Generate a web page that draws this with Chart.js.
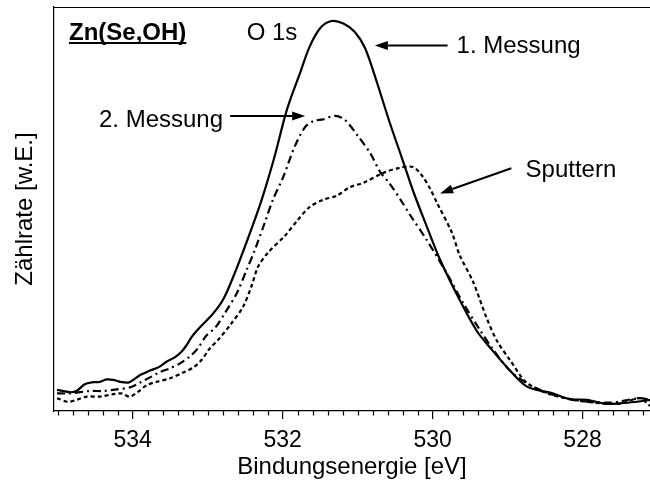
<!DOCTYPE html>
<html>
<head>
<meta charset="utf-8">
<script src="https://cdn.jsdelivr.net/npm/chart.js@4.4.0/dist/chart.umd.min.js"></script>
<style>
html,body{margin:0;padding:0;background:#ffffff;}
#wrap{width:650px;height:482px;}
</style>
</head>
<body>
<div id="wrap"><canvas id="c" width="650" height="482"></canvas></div>
<script>
// ---- data (binding energy in eV, count rate in arbitrary units) ----
const energy1 = [535.01,534.84,534.75,534.64,534.53,534.44,534.35,534.26,534.17,534.06,533.99,533.90,533.77,533.66,533.55,533.44,533.35,533.28,533.21,533.10,532.93,532.79,532.66,532.46,532.28,532.12,531.97,531.90,531.77,531.64,531.50,531.35,531.19,531.04,530.90,530.74,530.57,530.41,530.25,530.06,529.90,529.64,529.41,529.24,529.01,528.74,528.40,528.17,527.94,527.68,527.46,527.20,527.10];
const counts1 = [5.3,4.7,5.0,6.7,7.2,7.3,7.9,7.8,7.3,7.1,7.8,9.0,10.1,10.9,12.3,13.4,14.8,16.5,18.6,21.0,24.3,28.0,33.5,43.3,52.8,62.8,73.6,77.8,84.4,91.1,95.7,97.5,96.9,94.8,90.7,82.0,72.0,63.3,54.5,45.3,37.8,27.8,20.0,16.0,11.0,6.1,4.4,3.0,2.8,1.8,2.0,2.5,2.8];

const energy2 = [535.01,534.84,534.57,534.40,534.21,534.04,533.90,533.77,533.64,533.50,533.37,533.24,533.13,533.02,532.90,532.77,532.61,532.48,532.37,532.24,532.13,531.99,531.84,531.70,531.59,531.46,531.30,531.17,530.99,530.83,530.70,530.57,530.40,530.30,530.08,529.81,529.59,529.37,529.19,528.93,528.57,528.13,527.64,527.24,527.10];
const counts2 = [4.4,4.4,5.0,5.0,5.4,5.9,7.1,8.4,9.7,10.7,11.9,13.6,15.7,18.8,20.8,24.5,29.5,35.3,40.3,47.0,52.8,58.6,66.1,71.0,72.5,72.9,73.8,72.8,68.6,64.4,59.8,56.8,52.0,49.0,42.8,34.4,26.9,20.3,15.3,9.4,5.3,2.8,2.1,3.2,2.8];

const energy3 = [535.01,534.86,534.75,534.61,534.44,534.26,534.15,534.04,533.93,533.81,533.68,533.50,533.33,533.19,533.08,532.97,532.86,532.70,532.53,532.41,532.33,532.20,531.97,531.81,531.64,531.46,531.28,531.10,530.93,530.66,530.44,530.26,530.14,530.04,529.94,529.74,529.64,529.46,529.28,529.14,528.97,528.74,528.40,527.94,527.50,527.24,527.10];
const counts3 = [3.2,2.3,2.8,3.6,3.6,4.2,4.4,3.6,4.8,6.5,7.3,8.2,9.6,10.9,12.8,15.7,17.8,21.5,26.0,31.5,36.0,39.5,43.8,47.5,51.0,52.8,53.8,56.0,57.0,59.5,60.8,61.0,58.8,55.8,52.0,44.5,39.0,32.3,23.3,17.5,12.8,7.0,4.0,2.3,1.8,3.2,1.3];

const majorTicks = [528, 530, 532, 534];

// annotation texts (anchored in data units: eV, counts)
const notes = [
  {text:'Zn(Se,OH)', x:534.85, y:92.75, bold:true, underline:true},
  {text:'O 1s', x:532.48, y:92.75},
  {text:'1. Messung', x:529.68, y:89.6},
  {text:'2. Messung', x:534.45, y:71.0},
  {text:'Sputtern', x:528.76, y:58.5}
];
const arrows = [
  {from:[529.80, 91.4], to:[530.77, 91.4]},
  {from:[532.70, 73.75], to:[531.70, 73.75]},
  {from:[528.95, 60.7], to:[529.90, 54.4]}
];

const FONT = 'Liberation Sans, Arial, Helvetica, sans-serif';

function pts(xs, ys){ return xs.map((v,i)=>({x:v, y:ys[i]})); }

const framePlugin = {
  id:'frame',
  afterDraw(chart){
    const ctx = chart.ctx, a = chart.chartArea, xs = chart.scales.x, ys = chart.scales.y;
    ctx.save();
    ctx.strokeStyle = '#000';
    // top frame line
    ctx.lineWidth = 1.2;
    ctx.beginPath(); ctx.moveTo(a.left, a.top + 0.5); ctx.lineTo(chart.width, a.top + 0.5); ctx.stroke();
    // minor ticks every 0.2 eV
    ctx.lineWidth = 1.2;
    const lo = Math.ceil(xs.min * 5), hi = Math.floor(xs.max * 5);
    for (let i = lo; i <= hi; i++) {
      if (i % 10 === 0) continue;
      const px = Math.round(xs.getPixelForValue(i / 5)) + 0.5;
      ctx.beginPath(); ctx.moveTo(px, a.bottom); ctx.lineTo(px, a.bottom + 4.5); ctx.stroke();
    }
    // annotation texts
    ctx.fillStyle = '#000';
    ctx.textBaseline = 'alphabetic';
    ctx.textAlign = 'left';
    notes.forEach(n => {
      ctx.font = (n.bold ? 'bold ' : '') + '24px ' + FONT;
      const px = xs.getPixelForValue(n.x), py = ys.getPixelForValue(n.y);
      ctx.fillText(n.text, px, py);
      if (n.underline) {
        const w = ctx.measureText(n.text).width;
        ctx.lineWidth = 2;
        ctx.beginPath(); ctx.moveTo(px, py + 3); ctx.lineTo(px + w, py + 3); ctx.stroke();
      }
    });
    // arrows
    arrows.forEach(ar => {
      const x1 = xs.getPixelForValue(ar.from[0]), y1 = ys.getPixelForValue(ar.from[1]);
      const x2 = xs.getPixelForValue(ar.to[0]), y2 = ys.getPixelForValue(ar.to[1]);
      const ang = Math.atan2(y2 - y1, x2 - x1);
      const L = 13, H = 4.5;
      const bx = x2 - L * Math.cos(ang), by = y2 - L * Math.sin(ang);
      ctx.lineWidth = 2;
      ctx.beginPath(); ctx.moveTo(x1, y1); ctx.lineTo(bx, by); ctx.stroke();
      ctx.beginPath();
      ctx.moveTo(x2, y2);
      ctx.lineTo(bx + H * Math.sin(ang), by - H * Math.cos(ang));
      ctx.lineTo(bx - H * Math.sin(ang), by + H * Math.cos(ang));
      ctx.closePath(); ctx.fill();
    });
    ctx.restore();
  }
};

const common = {pointRadius:0, borderColor:'#000', backgroundColor:'#000', fill:false, tension:0.3, borderWidth:2.2};

new Chart(document.getElementById('c'), {
  type:'line',
  data:{
    datasets:[
      Object.assign({label:'1. Messung', data:pts(energy1, counts1)}, common),
      Object.assign({label:'2. Messung', data:pts(energy2, counts2), borderDash:[8,4,2,4]}, common),
      Object.assign({label:'Sputtern', data:pts(energy3, counts3), borderDash:[4,3]}, common)
    ]
  },
  options:{
    responsive:false,
    animation:false,
    layout:{padding:{top:7, right:0, left:0, bottom:0}},
    plugins:{legend:{display:false}, tooltip:{enabled:false}},
    scales:{
      x:{
        type:'linear', reverse:true, min:527.10, max:535.05,
        afterBuildTicks: s => { s.ticks = majorTicks.map(v => ({value:v})); },
        ticks:{autoSkip:false, maxRotation:0, color:'#000', padding:8,
               font:{family:FONT, size:23}, callback: v => String(v)},
        grid:{display:true, drawOnChartArea:false, drawTicks:true, tickLength:8, color:'#000', lineWidth:1.2},
        border:{display:true, color:'#000', width:1.2},
        title:{display:true, text:'Bindungsenergie [eV]', color:'#000',
               font:{family:FONT, size:24}, padding:{top:0, bottom:0}},
        afterFit: s => { s.height = 71; }
      },
      y:{
        min:0, max:101,
        ticks:{display:false},
        grid:{display:true, drawOnChartArea:false, drawTicks:false, color:'#000'},
        border:{display:true, color:'#000', width:1.2},
        title:{display:true, text:'Zählrate [w.E.]', color:'#000',
               font:{family:FONT, size:24}, padding:{top:11, bottom:0}},
        afterFit: s => { s.width = 54; }
      }
    }
  },
  plugins:[framePlugin]
});
</script>
</body>
</html>
